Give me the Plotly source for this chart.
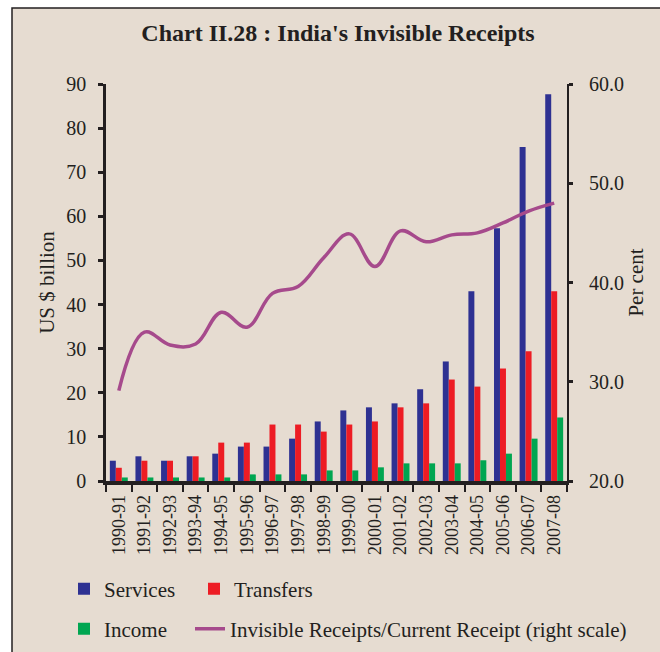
import plotly.graph_objects as go

# Fiscal years on the category axis
years = ["1990-91", "1991-92", "1992-93", "1993-94", "1994-95", "1995-96",
         "1996-97", "1997-98", "1998-99", "1999-00", "2000-01", "2001-02",
         "2002-03", "2003-04", "2004-05", "2005-06", "2006-07", "2007-08"]

# Invisible receipts components, US $ billion
services = [4.6, 5.6, 4.6, 5.6, 6.2, 7.8, 7.8, 9.6, 13.5, 16.0, 16.7, 17.6,
            20.8, 27.1, 43.0, 57.3, 75.7, 87.7]
transfers = [3.0, 4.6, 4.6, 5.6, 8.7, 8.7, 12.8, 12.8, 11.2, 12.8, 13.5, 16.7,
             17.6, 23.0, 21.4, 25.5, 29.4, 43.0]
income = [0.8, 0.8, 0.8, 0.8, 0.8, 1.5, 1.5, 1.5, 2.4, 2.4, 3.1, 4.0,
          4.0, 4.0, 4.7, 6.2, 9.6, 14.4]

# Invisible receipts as a share of current receipts, per cent (right scale)
share = [29.1, 35.0, 33.7, 33.8, 37.0, 35.5, 38.9, 39.6, 42.5, 44.9, 41.6,
         45.2, 44.1, 44.8, 45.0, 46.0, 47.2, 48.0]

left_ticks = list(range(0, 91, 10))
right_ticks = [20, 30, 40, 50, 60]

BG = "#E6DCD1"
INK = "#231F20"
FONT = "Liberation Serif, Times New Roman, serif"

W, H = 660, 652
ML, MR, MT, MB = 106, 93, 84, 171
PW = W - ML - MR
PH = H - MT - MB


def px_x(px):
    return (px - ML) / PW


def px_y(py):
    return (H - MB - py) / PH


fig = go.Figure()
fig.add_trace(go.Bar(x=years, y=services, name="Services",
                     marker=dict(color="#2E3192", line=dict(width=0)),
                     legend="legend"))
fig.add_trace(go.Bar(x=years, y=transfers, name="Transfers",
                     marker=dict(color="#ED1C24", line=dict(width=0)),
                     legend="legend"))
fig.add_trace(go.Bar(x=years, y=income, name="Income",
                     marker=dict(color="#00A651", line=dict(width=0)),
                     legend="legend2"))
fig.add_trace(go.Scatter(x=years, y=share, yaxis="y2", mode="lines",
                         name="Invisible Receipts/Current Receipt (right scale)",
                         line=dict(color="#A64A8C", width=3.5, shape="spline",
                                   smoothing=1.1),
                         legend="legend3"))

# Framed panel behind the chart
fig.add_shape(type="rect", xref="paper", yref="paper",
              x0=px_x(12), x1=px_x(720), y0=px_y(720), y1=px_y(8),
              fillcolor=BG, line=dict(color=INK, width=1.5), layer="below")

legend_common = dict(orientation="h", xanchor="left", yanchor="middle",
                     bgcolor="rgba(0,0,0,0)", font=dict(size=21),
                     traceorder="normal")

fig.update_layout(
    width=W, height=H,
    margin=dict(l=ML, r=MR, t=MT, b=MB, pad=0, autoexpand=False),
    paper_bgcolor="white",
    plot_bgcolor="rgba(0,0,0,0)",
    font=dict(family=FONT, color=INK, size=20),
    barmode="group", bargap=0.3, bargroupgap=0,
    title=dict(text="<b>Chart II.28 : India's Invisible Receipts</b>",
               x=338 / W, y=1 - 33 / H, xanchor="center", yanchor="middle",
               font=dict(family=FONT, size=24, color=INK)),
    xaxis=dict(type="category", range=[-0.5, len(years) - 0.5],
               tickson="boundaries", ticks="outside", ticklen=7, tickwidth=2,
               tickcolor=INK, showline=True, linewidth=3.5, linecolor=INK,
               tickangle=-90, tickfont=dict(size=18), showgrid=False,
               ticklabelstandoff=3, automargin=False),
    yaxis=dict(range=[0, 90], tickvals=left_ticks, ticks="outside", ticklen=5,
               tickwidth=3, tickcolor=INK, showline=True, linewidth=2.5,
               linecolor=INK, showgrid=False, zeroline=False,
               tickfont=dict(size=20), ticklabelstandoff=8, automargin=False,
               title=dict(text="US $ billion", font=dict(size=21), standoff=6)),
    yaxis2=dict(range=[20, 60], tickvals=right_ticks, tickformat=".1f",
                overlaying="y", side="right", ticks="outside", ticklen=4,
                tickwidth=3, tickcolor=INK, showline=True, linewidth=2,
                linecolor=INK, showgrid=False, zeroline=False,
                tickfont=dict(size=20), ticklabelstandoff=12, automargin=False,
                title=dict(text="Per cent", font=dict(size=21), standoff=2)),
    legend=dict(x=px_x(64), y=px_y(589), entrywidth=85,
                entrywidthmode="pixels", **legend_common),
    legend2=dict(x=px_x(64), y=px_y(629), **legend_common),
    legend3=dict(x=px_x(190), y=px_y(629), **legend_common),
)

fig.write_html("out.html")
